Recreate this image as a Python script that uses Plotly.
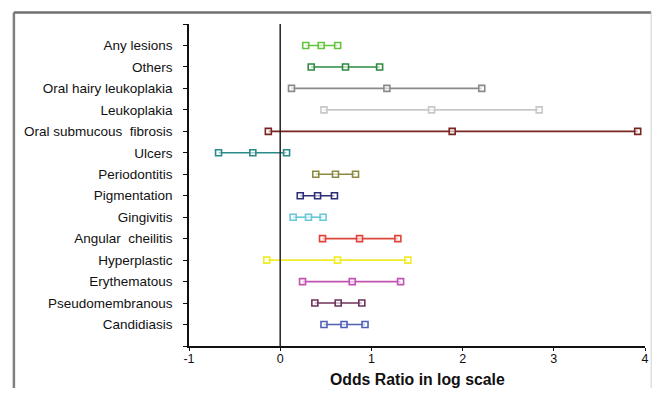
import plotly.graph_objects as go

categories = ["Any lesions", "Others", "Oral hairy leukoplakia", "Leukoplakia",
              "Oral submucous\u00a0 fibrosis", "Ulcers", "Periodontitis", "Pigmentation",
              "Gingivitis", "Angular\u00a0 cheilitis", "Hyperplastic", "Erythematous",
              "Pseudomembranous", "Candidiasis"]
lower = [0.28, 0.34, 0.124, 0.48, -0.13, -0.676, 0.39, 0.22, 0.142, 0.464, -0.147, 0.245, 0.38, 0.48]
estimate = [0.45, 0.716, 1.17, 1.66, 1.886, -0.30, 0.606, 0.41, 0.31, 0.87, 0.628, 0.79, 0.636, 0.70]
upper = [0.63, 1.09, 2.21, 2.84, 3.92, 0.07, 0.826, 0.595, 0.47, 1.29, 1.40, 1.32, 0.895, 0.93]
colors = ["#66c43c", "#2e8a40", "#8a8a8a", "#c8c8c8", "#7a2420", "#2a8a88", "#8c8a40",
          "#2e2e78", "#66c8d8", "#e0443a", "#f0ec2a", "#c054b0", "#70305c", "#5060b4"]
x_ticks = [-1, 0, 1, 2, 3, 4]
x_title = "Odds Ratio in log scale"

n = len(categories)
ypos = [n - i for i in range(n)]

fig = go.Figure()
for i, cat in enumerate(categories):
    fig.add_trace(go.Scatter(
        x=[lower[i], estimate[i], upper[i]], y=[ypos[i]] * 3,
        mode="lines+markers", name=cat, showlegend=False,
        line=dict(color=colors[i], width=1.6),
        marker=dict(symbol="square", size=6, color="rgba(255,255,255,0.6)",
                    line=dict(color=colors[i], width=1.6)),
    ))

fig.add_shape(type="line", xref="x", yref="paper", x0=0, x1=0, y0=0, y1=1,
              line=dict(color="#222222", width=1.5))

# outer frame
fx0, fx1, fy0, fy1 = -0.384, 1.0135, -0.2, 1.036
fig.add_shape(type="line", xref="paper", yref="paper", x0=fx0, x1=fx0, y0=fy0, y1=fy1,
              line=dict(color="#808080", width=2.5))
fig.add_shape(type="line", xref="paper", yref="paper", x0=fx0, x1=fx1, y0=fy1, y1=fy1,
              line=dict(color="#707070", width=2.5))
fig.add_shape(type="line", xref="paper", yref="paper", x0=fx1, x1=fx1, y0=fy0, y1=fy1,
              line=dict(color="#d0d0d0", width=1))

fig.add_annotation(text="<b>" + x_title + "</b>", xref="paper", yref="paper",
                   x=0.5, y=-0.104, xanchor="center", yanchor="middle", showarrow=False,
                   font=dict(family="Liberation Sans, Arial", size=15.8, color="#111111"))

fig.update_xaxes(range=[-1, 4], tickvals=x_ticks, ticktext=[str(v) for v in x_ticks],
                 showgrid=False, zeroline=False, showline=True, linecolor="#111111",
                 linewidth=1.5, ticks="outside", ticklen=3, tickcolor="#111111",
                 automargin=False, ticklabelstandoff=-3,
                 tickfont=dict(family="Liberation Sans, Arial", size=12.5, color="#111111"))
fig.update_yaxes(range=[0, n + 1], tickvals=list(range(0, n + 2)),
                 ticktext=[""] + categories[::-1] + [""],
                 showgrid=False, zeroline=False, showline=True, linecolor="#111111",
                 linewidth=1.5, ticks="outside", ticklen=4, tickcolor="#111111",
                 ticklabelstandoff=8, automargin=False,
                 tickfont=dict(family="Liberation Sans, Arial", size=13.5, color="#111111"))

fig.update_layout(width=644, height=380, margin=dict(l=181, r=7, t=16, b=42),
                  plot_bgcolor="white", paper_bgcolor="white")
fig.write_html("out.html")
